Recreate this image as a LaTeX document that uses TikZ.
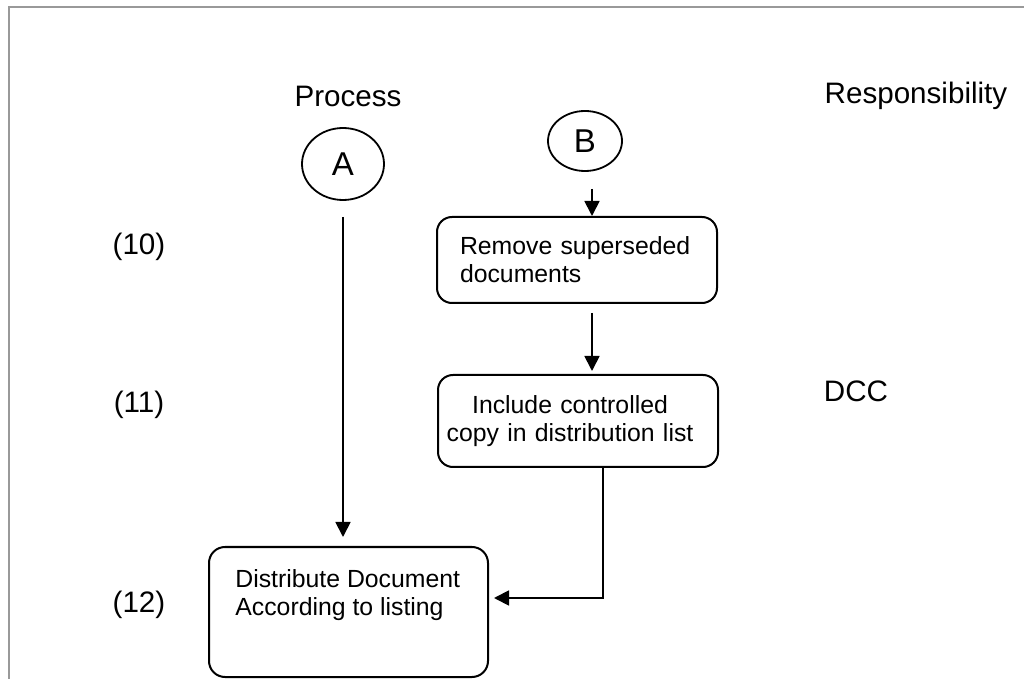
\documentclass[tikz,border=0pt]{standalone}
\usepackage{fontspec}
\setmainfont{Liberation Sans}
\usepackage{tikz}
\usetikzlibrary{shapes.geometric, arrows.meta, positioning, calc}
\definecolor{framegray}{RGB}{153, 153, 153}

\begin{document}
\begin{tikzpicture}[x=0.5pt, y=-0.5pt,
    headfont/.style={font=\fontsize{14.8}{17}\selectfont},
    stepbox/.style={draw, line width=1pt, rounded corners=7.5pt, inner ysep=0pt, font=\fontsize{12.4}{14}\selectfont},
    connector/.style={draw, ellipse, line width=0.9pt, inner sep=0pt, font=\fontsize{16.5}{19}\selectfont},
    flow/.style={line width=0.9pt, -{Triangle[length=7.5pt, width=7.5pt]}}]
    \useasboundingbox (0,0) rectangle (1024,679);

    % Frame
    \draw[framegray, line width=1pt] (9,679) -- (9,7) -- (1024,7);

    % Column headings
    \node[headfont] (process) at (348,96) {Process};
    \node[headfont] (resp) at (916,96) {Responsibility};

    % Step numbers
    \node[headfont] (s10) at (139,247) {(10)};
    \node[headfont] (s11) at (139,405) {(11)};
    \node[headfont] (s12) at (139,605) {(12)};
    \node[headfont] (dcc) at (856,391) {DCC};

    % Connectors
    \node[connector, minimum width=41pt, minimum height=36pt] (A) at (343,164) {A};
    \node[connector, minimum width=37pt, minimum height=30pt] (B) at (585,141) {B};

    % Steps
    \node[stepbox, minimum width=140pt, minimum height=43pt, inner xsep=11.5pt,
          text width=117pt, align=left] (remove) at (577,260)
        {Remove superseded\\documents};
    \node[stepbox, minimum width=140pt, minimum height=46pt, inner xsep=5pt,
          text width=130pt, align=center] (include) at (578,421)
        {\hspace*{-8pt}Include controlled\\\hspace*{-8pt}copy in distribution list};
    \node[stepbox, rounded corners=8pt, minimum width=139.5pt, minimum height=65pt] (dist) at (348.5,612) {};
    \node[font=\fontsize{12.4}{14}\selectfont, align=left, inner sep=0pt, anchor=north west] (distText) at (235,569)
        {Distribute Document\\According to listing};

    % Flow
    \draw[flow, shorten <=8pt, shorten >=4.5pt] (A.south) -- (A.south |- dist.north);
    \draw[flow, shorten <=8.5pt] ([xshift=3.5pt]B.south) -- ([xshift=3.5pt]B.south |- remove.north);
    \draw[flow, shorten <=4.5pt, shorten >=1.5pt] ([xshift=7.5pt]remove.south) -- ([xshift=7.5pt]remove.south |- include.north);
    \draw[flow, shorten >=2.5pt] ([xshift=12.5pt]include.south) |- ([yshift=7pt]dist.east);

\end{tikzpicture}
\end{document}
